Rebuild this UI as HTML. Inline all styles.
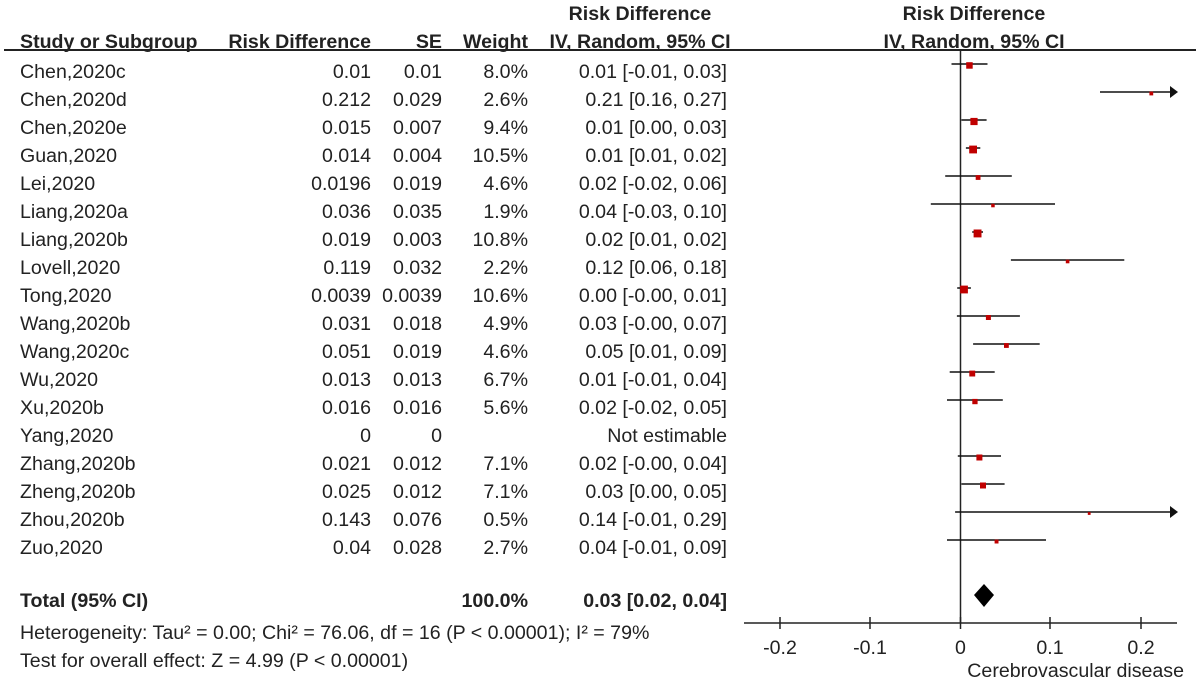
<!DOCTYPE html>
<html><head><meta charset="utf-8"><style>
body{margin:0;background:#fff;}
svg text{font-family:"Liberation Sans",Arial,sans-serif;font-size:19.6px;fill:#222;}
.r{text-anchor:end;}
</style></head><body>
<svg width="1200" height="683" xmlns="http://www.w3.org/2000/svg">
<g font-weight="bold">
<text x="640" y="20" text-anchor="middle">Risk Difference</text>
<text x="974" y="20" text-anchor="middle">Risk Difference</text>
<text x="20" y="48">Study or Subgroup</text>
<text x="371" y="48" class="r">Risk Difference</text>
<text x="442" y="48" class="r">SE</text>
<text x="528" y="48" class="r">Weight</text>
<text x="640" y="48" text-anchor="middle">IV, Random, 95% CI</text>
<text x="974" y="48" text-anchor="middle">IV, Random, 95% CI</text>
</g>
<line x1="4" y1="50" x2="1196" y2="50" stroke="#222" stroke-width="2"/>
<line x1="960.5" y1="50" x2="960.5" y2="623" stroke="#222" stroke-width="1.5"/>

<g transform="translate(0,8)">
<text x="20" y="70">Chen,2020c</text><text x="371" y="70" class="r">0.01</text><text x="442" y="70" class="r">0.01</text><text x="528" y="70" class="r">8.0%</text><text x="727" y="70" class="r">0.01 [-0.01, 0.03]</text>
<text x="20" y="98">Chen,2020d</text><text x="371" y="98" class="r">0.212</text><text x="442" y="98" class="r">0.029</text><text x="528" y="98" class="r">2.6%</text><text x="727" y="98" class="r">0.21 [0.16, 0.27]</text>
<text x="20" y="126">Chen,2020e</text><text x="371" y="126" class="r">0.015</text><text x="442" y="126" class="r">0.007</text><text x="528" y="126" class="r">9.4%</text><text x="727" y="126" class="r">0.01 [0.00, 0.03]</text>
<text x="20" y="154">Guan,2020</text><text x="371" y="154" class="r">0.014</text><text x="442" y="154" class="r">0.004</text><text x="528" y="154" class="r">10.5%</text><text x="727" y="154" class="r">0.01 [0.01, 0.02]</text>
<text x="20" y="182">Lei,2020</text><text x="371" y="182" class="r">0.0196</text><text x="442" y="182" class="r">0.019</text><text x="528" y="182" class="r">4.6%</text><text x="727" y="182" class="r">0.02 [-0.02, 0.06]</text>
<text x="20" y="210">Liang,2020a</text><text x="371" y="210" class="r">0.036</text><text x="442" y="210" class="r">0.035</text><text x="528" y="210" class="r">1.9%</text><text x="727" y="210" class="r">0.04 [-0.03, 0.10]</text>
<text x="20" y="238">Liang,2020b</text><text x="371" y="238" class="r">0.019</text><text x="442" y="238" class="r">0.003</text><text x="528" y="238" class="r">10.8%</text><text x="727" y="238" class="r">0.02 [0.01, 0.02]</text>
<text x="20" y="266">Lovell,2020</text><text x="371" y="266" class="r">0.119</text><text x="442" y="266" class="r">0.032</text><text x="528" y="266" class="r">2.2%</text><text x="727" y="266" class="r">0.12 [0.06, 0.18]</text>
<text x="20" y="294">Tong,2020</text><text x="371" y="294" class="r">0.0039</text><text x="442" y="294" class="r">0.0039</text><text x="528" y="294" class="r">10.6%</text><text x="727" y="294" class="r">0.00 [-0.00, 0.01]</text>
<text x="20" y="322">Wang,2020b</text><text x="371" y="322" class="r">0.031</text><text x="442" y="322" class="r">0.018</text><text x="528" y="322" class="r">4.9%</text><text x="727" y="322" class="r">0.03 [-0.00, 0.07]</text>
<text x="20" y="350">Wang,2020c</text><text x="371" y="350" class="r">0.051</text><text x="442" y="350" class="r">0.019</text><text x="528" y="350" class="r">4.6%</text><text x="727" y="350" class="r">0.05 [0.01, 0.09]</text>
<text x="20" y="378">Wu,2020</text><text x="371" y="378" class="r">0.013</text><text x="442" y="378" class="r">0.013</text><text x="528" y="378" class="r">6.7%</text><text x="727" y="378" class="r">0.01 [-0.01, 0.04]</text>
<text x="20" y="406">Xu,2020b</text><text x="371" y="406" class="r">0.016</text><text x="442" y="406" class="r">0.016</text><text x="528" y="406" class="r">5.6%</text><text x="727" y="406" class="r">0.02 [-0.02, 0.05]</text>
<text x="20" y="434">Yang,2020</text><text x="371" y="434" class="r">0</text><text x="442" y="434" class="r">0</text><text x="727" y="434" class="r">Not estimable</text>
<text x="20" y="462">Zhang,2020b</text><text x="371" y="462" class="r">0.021</text><text x="442" y="462" class="r">0.012</text><text x="528" y="462" class="r">7.1%</text><text x="727" y="462" class="r">0.02 [-0.00, 0.04]</text>
<text x="20" y="490">Zheng,2020b</text><text x="371" y="490" class="r">0.025</text><text x="442" y="490" class="r">0.012</text><text x="528" y="490" class="r">7.1%</text><text x="727" y="490" class="r">0.03 [0.00, 0.05]</text>
<text x="20" y="518">Zhou,2020b</text><text x="371" y="518" class="r">0.143</text><text x="442" y="518" class="r">0.076</text><text x="528" y="518" class="r">0.5%</text><text x="727" y="518" class="r">0.14 [-0.01, 0.29]</text>
<text x="20" y="546">Zuo,2020</text><text x="371" y="546" class="r">0.04</text><text x="442" y="546" class="r">0.028</text><text x="528" y="546" class="r">2.7%</text><text x="727" y="546" class="r">0.04 [-0.01, 0.09]</text>
</g>

<g stroke="#111" stroke-width="1.5">
<line x1="951.5" y1="64" x2="987.5" y2="64"/>
<line x1="1100" y1="92" x2="1170" y2="92"/>
<line x1="961.4" y1="120" x2="986.6" y2="120"/>
<line x1="965.9" y1="148" x2="980.3" y2="148"/>
<line x1="945.2" y1="176" x2="1011.8" y2="176"/>
<line x1="930.8" y1="204" x2="1055" y2="204"/>
<line x1="972.2" y1="232" x2="983" y2="232"/>
<line x1="1010.9" y1="260" x2="1124.3" y2="260"/>
<line x1="957.2" y1="288" x2="970.9" y2="288"/>
<line x1="956.9" y1="316" x2="1019.9" y2="316"/>
<line x1="973.1" y1="344" x2="1039.7" y2="344"/>
<line x1="949.7" y1="372" x2="994.7" y2="372"/>
<line x1="947" y1="400" x2="1002.8" y2="400"/>
<line x1="957.8" y1="456" x2="1001" y2="456"/>
<line x1="961.4" y1="484" x2="1004.6" y2="484"/>
<line x1="955.1" y1="512" x2="1170" y2="512"/>
<line x1="947" y1="540" x2="1046" y2="540"/>
</g>
<polygon points="1170,86 1178,92 1170,98" fill="#111"/>
<polygon points="1170,506 1178,512 1170,518" fill="#111"/>
<g fill="#c00000" transform="translate(0,1.5)">
<rect x="966.2" y="60.7" width="6.5" height="6.5"/>
<rect x="1149.4" y="90.1" width="3.8" height="3.8"/>
<rect x="970.4" y="116.4" width="7.2" height="7.2"/>
<rect x="969.2" y="144.1" width="7.8" height="7.8"/>
<rect x="975.7" y="173.6" width="4.8" height="4.8"/>
<rect x="991.2" y="202.3" width="3.5" height="3.5"/>
<rect x="973.6" y="228" width="7.9" height="7.9"/>
<rect x="1065.8" y="258.2" width="3.6" height="3.6"/>
<rect x="960.1" y="284.1" width="7.8" height="7.8"/>
<rect x="985.9" y="313.5" width="5" height="5"/>
<rect x="1004" y="341.6" width="4.8" height="4.8"/>
<rect x="969.3" y="369.1" width="5.9" height="5.9"/>
<rect x="972.3" y="397.4" width="5.3" height="5.3"/>
<rect x="976.4" y="453" width="6" height="6"/>
<rect x="980" y="481" width="6" height="6"/>
<rect x="1087.8" y="510.6" width="2.8" height="2.8"/>
<rect x="994.6" y="538.1" width="3.9" height="3.9"/>
</g>

<text x="20" y="607" font-weight="bold">Total (95% CI)</text>
<text x="528" y="607" class="r" font-weight="bold">100.0%</text>
<text x="727" y="607" class="r" font-weight="bold">0.03 [0.02, 0.04]</text>
<text x="20" y="639">Heterogeneity: Tau² = 0.00; Chi² = 76.06, df = 16 (P &lt; 0.00001); I² = 79%</text>
<text x="20" y="667">Test for overall effect: Z = 4.99 (P &lt; 0.00001)</text>
<polygon points="974,595 984,584 994,595 984,607" fill="#000"/>
<line x1="744" y1="623" x2="1177" y2="623" stroke="#222" stroke-width="1.5"/>
<g stroke="#222" stroke-width="1.5">
<line x1="780" y1="617" x2="780" y2="629"/><line x1="870" y1="617" x2="870" y2="629"/>
<line x1="960.5" y1="617" x2="960.5" y2="629"/><line x1="1050" y1="617" x2="1050" y2="629"/>
<line x1="1141" y1="617" x2="1141" y2="629"/></g>
<g text-anchor="middle">
<text x="780" y="654">-0.2</text><text x="870" y="654">-0.1</text><text x="960.5" y="654">0</text>
<text x="1050" y="654">0.1</text><text x="1141" y="654">0.2</text></g>
<text x="1184" y="677" class="r">Cerebrovascular disease</text>
</svg>
</body></html>
